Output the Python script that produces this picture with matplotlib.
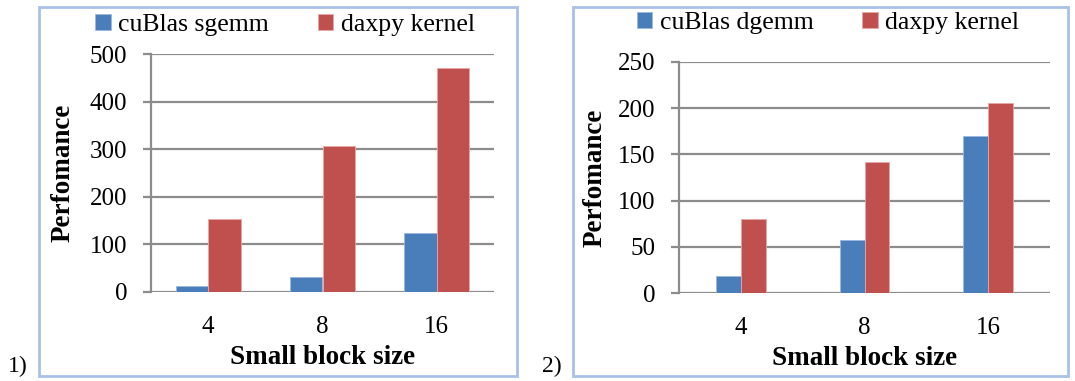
import matplotlib.pyplot as plt
import numpy as np
from matplotlib.patches import Rectangle

block_sizes = ["4", "8", "16"]

# panel 1
sgemm = [13, 31, 125]
daxpy_1 = [154, 306, 471]
yticks_1 = [0, 100, 200, 300, 400, 500]

# panel 2
dgemm = [19, 58, 170]
daxpy_2 = [80, 142, 205]
yticks_2 = [0, 50, 100, 150, 200, 250]

BLUE = "#4a7ebb"
RED = "#c0504d"
GRID = "#8c8c8c"
FRAME = "#a9c1e6"

plt.rcParams["font.family"] = ["Liberation Serif", "DejaVu Serif"]

fig = plt.figure(figsize=(10.75, 3.81), dpi=100)

# light blue frames around each panel
for x0, x1 in [(39, 517), (573, 1068)]:
    fig.patches.append(Rectangle((x0 / 1075, 5 / 381), (x1 - x0) / 1075, (376 - 7) / 381,
                                 transform=fig.transFigure, fill=False,
                                 edgecolor=FRAME, linewidth=2))


def draw_panel(rect, blue_vals, red_vals, blue_name, yticks, width, legend_xy, ylabel_x):
    ax = fig.add_axes(rect)
    x = np.arange(len(block_sizes))
    ax.bar(x - width / 2, blue_vals, width, color=BLUE, edgecolor="#9bb7dc",
           linewidth=0.6, label=blue_name, zorder=3)
    ax.bar(x + width / 2, red_vals, width, color=RED, edgecolor="#e8a8a6",
           linewidth=0.6, label="daxpy kernel", zorder=3)
    ax.set_xlim(-0.5, 2.5)
    ax.set_ylim(yticks[0], yticks[-1])
    ax.set_yticks(yticks)
    ax.set_xticks(x)
    ax.set_xticklabels(block_sizes)
    ax.yaxis.grid(True, color=GRID, linewidth=1.6, zorder=0)
    for side in ["top", "right", "bottom"]:
        ax.spines[side].set_visible(False)
    ax.spines["left"].set_color(GRID)
    ax.spines["left"].set_linewidth(1.6)
    ax.tick_params(axis="y", length=6, width=1.6, color=GRID, labelsize=18, pad=11)
    ax.tick_params(axis="x", length=0, labelsize=18, pad=17)
    ax.set_xlabel("Small block size", fontsize=19.5, fontweight="bold", labelpad=5)
    ax.set_ylabel("Perfomance", fontsize=19.5, fontweight="bold")
    ax.yaxis.set_label_coords(ylabel_x, rect[1] + rect[3] / 2, transform=fig.transFigure)
    ax.legend(loc="center", bbox_to_anchor=legend_xy, bbox_transform=fig.transFigure,
              ncol=2, frameon=False, fontsize=18.5, handlelength=0.6, handleheight=0.6,
              handletextpad=0.3, columnspacing=1.9, borderaxespad=0)
    return ax


draw_panel([151 / 1075, 1 - 292 / 381, 343 / 1075, 238 / 381],
           sgemm, daxpy_1, "cuBlas sgemm", yticks_1, 0.285,
           (285 / 1075, 1 - 25 / 381), 76 / 1075)
draw_panel([679 / 1075, 1 - 293.3 / 381, 371 / 1075, 231.6 / 381],
           dgemm, daxpy_2, "cuBlas dgemm", yticks_2, 0.2,
           (828 / 1075, 1 - 23 / 381), 608 / 1075)

fig.text(8 / 1075, 1 - 366 / 381, "1)", fontsize=17, va="center", ha="left")
fig.text(542 / 1075, 1 - 366 / 381, "2)", fontsize=17, va="center", ha="left")

fig.savefig("out.png", dpi=100)
